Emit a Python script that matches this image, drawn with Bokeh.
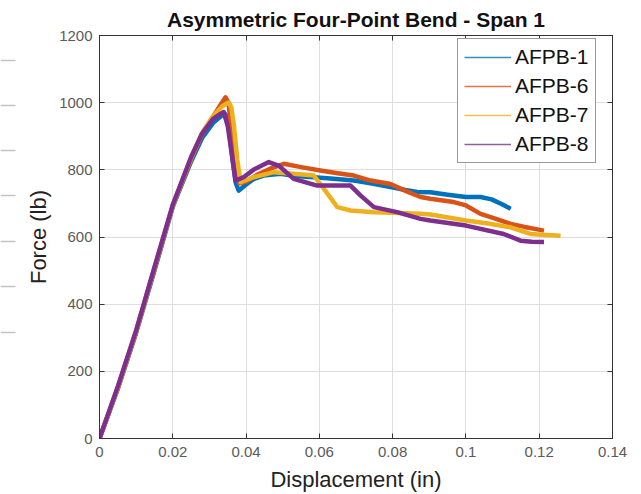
from bokeh.plotting import figure
from bokeh.models import LinearAxis, Legend, LegendItem, ColumnDataSource, Range1d, FixedTicker
from bokeh.layouts import row
from bokeh.embed import file_html
from bokeh.resources import INLINE

# ---- data ----
x1 = [0, 0.005, 0.01, 0.015, 0.02, 0.025, 0.028, 0.031, 0.0334, 0.0344, 0.0352, 0.0362, 0.0372, 0.0380,
      0.0395, 0.042, 0.0448, 0.0494, 0.052, 0.0555, 0.0585, 0.063, 0.0694, 0.074, 0.0794, 0.0835,
      0.0867, 0.0903, 0.095, 0.100, 0.104, 0.107, 0.110, 0.1122]
y1 = [0, 148, 315, 500, 690, 825, 895, 940, 962, 965, 935, 840, 760, 738,
      752, 772, 783, 788, 784, 780, 778, 774, 768, 760, 749, 740,
      734, 733, 726, 719, 719, 712, 697, 684]

x6 = [0, 0.005, 0.01, 0.015, 0.02, 0.025, 0.028, 0.031, 0.0334, 0.0344, 0.0352, 0.0362, 0.0372, 0.0382,
      0.040, 0.043, 0.047, 0.0503, 0.055, 0.0603, 0.065, 0.0694, 0.074, 0.0794, 0.084,
      0.0876, 0.0903, 0.0967, 0.100, 0.104, 0.108, 0.1122, 0.116, 0.1213]
y6 = [0, 150, 318, 505, 694, 832, 905, 958, 1000, 1016, 1000, 900, 800, 760,
      765, 785, 805, 818, 808, 798, 790, 783, 768, 758, 735,
      719, 714, 704, 694, 669, 655, 639, 630, 619]

x7 = [0, 0.005, 0.01, 0.015, 0.02, 0.025, 0.028, 0.031, 0.0336, 0.0353, 0.0360, 0.0367, 0.0376, 0.0385,
      0.042, 0.0476, 0.053, 0.0585, 0.0612, 0.0649, 0.0685, 0.0749, 0.080, 0.0876, 0.0903,
      0.100, 0.106, 0.1122, 0.1176, 0.122, 0.1258]
y7 = [0, 152, 320, 508, 694, 835, 910, 960, 990, 1001, 985, 930, 830, 763,
      778, 793, 788, 783, 744, 689, 679, 674, 672, 669, 667,
      649, 640, 629, 609, 606, 604]

x8 = [0, 0.005, 0.01, 0.015, 0.02, 0.025, 0.028, 0.031, 0.0332, 0.0339, 0.0350, 0.0362, 0.0371,
      0.0393, 0.042, 0.0462, 0.049, 0.053, 0.0594, 0.064, 0.0685, 0.0712, 0.0749, 0.0812,
      0.0876, 0.0903, 0.100, 0.1103, 0.1149, 0.118, 0.1213]
y8 = [0, 155, 322, 510, 696, 838, 908, 952, 968, 972, 930, 840, 768,
      778, 800, 823, 812, 773, 753, 753, 753, 724, 689, 674,
      654, 649, 634, 609, 589, 586, 585]

series_names = ["AFPB-1", "AFPB-6", "AFPB-7", "AFPB-8"]
series_x = [x1, x6, x7, x8]
series_y = [y1, y6, y7, y8]
colors = ["#0072BD", "#D95319", "#EDB120", "#7E2F8E"]

x_ticks = [0, 0.02, 0.04, 0.06, 0.08, 0.1, 0.12, 0.14]
y_ticks = [0, 200, 400, 600, 800, 1000, 1200]
x_tick_labels = {0: "0", 0.02: "0.02", 0.04: "0.04", 0.06: "0.06", 0.08: "0.08", 0.1: "0.1", 0.12: "0.12", 0.14: "0.14"}

# faint stray tick marks visible at the far left edge of the screenshot (pixel rows)
edge_mark_rows = [60, 105, 150, 195, 241, 286, 332]

FONT = "Liberation Sans"
TICK_COLOR = "#5a5a5a"
AXIS_COLOR = "#333333"
EDGE_W = 16

# ---- narrow strip with the stray edge marks (its frame is aligned with the chart frame: rows 35..438) ----
edge = figure(width=EDGE_W, height=494, output_backend="svg", toolbar_location=None,
              x_axis_location=None, y_axis_location=None,
              x_range=Range1d(0, EDGE_W), y_range=Range1d(438, 35),
              min_border_left=0, min_border_right=0, min_border_top=0, min_border_bottom=0)
edge.grid.visible = False
edge.outline_line_color = None
edge.segment(x0=[0] * len(edge_mark_rows), x1=[15] * len(edge_mark_rows),
             y0=edge_mark_rows, y1=edge_mark_rows, line_color="#c4c4c4", line_width=1.5)

# ---- main chart ----
p = figure(width=641 - EDGE_W, height=494, output_backend="svg", toolbar_location=None,
           x_range=Range1d(0, 0.14), y_range=Range1d(0, 1200),
           min_border_left=99 - EDGE_W, min_border_right=29, min_border_top=35, min_border_bottom=56)

p.title.text = "Asymmetric Four-Point Bend - Span 1"
p.title.align = "center"
p.title.text_font = FONT
p.title.text_font_size = "21px"
p.title.text_font_style = "bold"
p.title.text_color = "#111111"
p.title.offset = 0
p.title.standoff = 10

p.outline_line_color = AXIS_COLOR
p.outline_line_width = 1
p.background_fill_color = "white"
p.border_fill_color = "white"

# thin lines (used for legend glyphs) drawn first, covered by thick data lines
legend_items = []
sources = []
for name, xs, ys, c in zip(series_names, series_x, series_y, colors):
    src = ColumnDataSource(dict(x=xs, y=ys))
    sources.append(src)
    thin = p.line("x", "y", source=src, line_color=c, line_width=1.6, line_alpha=0.8)
    legend_items.append(LegendItem(label=name, renderers=[thin]))

for src, c in zip(sources, colors):
    p.line("x", "y", source=src, line_color=c, line_width=4.5, line_join="round")

legend = Legend(items=legend_items, location=(358, 275))
legend.label_text_font = FONT
legend.label_text_font_size = "21px"
legend.label_text_color = "#111111"
legend.glyph_width = 47
legend.glyph_height = 22
legend.label_height = 22
legend.label_standoff = 4
legend.spacing = 5
legend.padding = 6
legend.margin = 0
legend.border_line_color = "#333333"
legend.border_line_width = 1.5
legend.background_fill_color = "white"
legend.background_fill_alpha = 1.0
p.add_layout(legend)

# axes styling
for ax in [p.xaxis[0], p.yaxis[0]]:
    ax.major_label_text_font = FONT
    ax.major_label_text_font_size = "15px"
    ax.major_label_text_color = TICK_COLOR
    ax.axis_line_color = AXIS_COLOR
    ax.major_tick_line_color = AXIS_COLOR
    ax.major_tick_in = 5
    ax.major_tick_out = 0
    ax.minor_tick_line_color = None
    ax.axis_label_text_font = FONT
    ax.axis_label_text_font_size = "22px"
    ax.axis_label_text_font_style = "normal"
    ax.axis_label_text_color = "#222222"

p.xaxis[0].ticker = FixedTicker(ticks=x_ticks)
p.yaxis[0].ticker = FixedTicker(ticks=y_ticks)
p.xaxis[0].major_label_overrides = x_tick_labels
p.xaxis[0].axis_label = "Displacement (in)"
p.yaxis[0].axis_label = "Force (lb)"
p.xaxis[0].major_label_standoff = 8
p.xaxis[0].axis_label_standoff = 7
p.yaxis[0].major_label_standoff = 7
p.yaxis[0].axis_label_standoff = 5

top_ax = LinearAxis(ticker=FixedTicker(ticks=x_ticks), major_label_text_font_size="0px",
                    major_tick_in=5, major_tick_out=0, minor_tick_line_color=None,
                    axis_line_color=AXIS_COLOR, major_tick_line_color=AXIS_COLOR,
                    major_label_standoff=0)
right_ax = LinearAxis(ticker=FixedTicker(ticks=y_ticks), major_label_text_font_size="0px",
                      major_tick_in=5, major_tick_out=0, minor_tick_line_color=None,
                      axis_line_color=AXIS_COLOR, major_tick_line_color=AXIS_COLOR,
                      major_label_standoff=0)
p.add_layout(top_ax, "above")
p.add_layout(right_ax, "right")

p.xgrid.ticker = FixedTicker(ticks=x_ticks)
p.ygrid.ticker = FixedTicker(ticks=y_ticks)
p.grid.grid_line_color = "#dedede"
p.grid.grid_line_width = 1

layout = row(edge, p, spacing=0)
open("out.html", "w").write(file_html(layout, INLINE))
